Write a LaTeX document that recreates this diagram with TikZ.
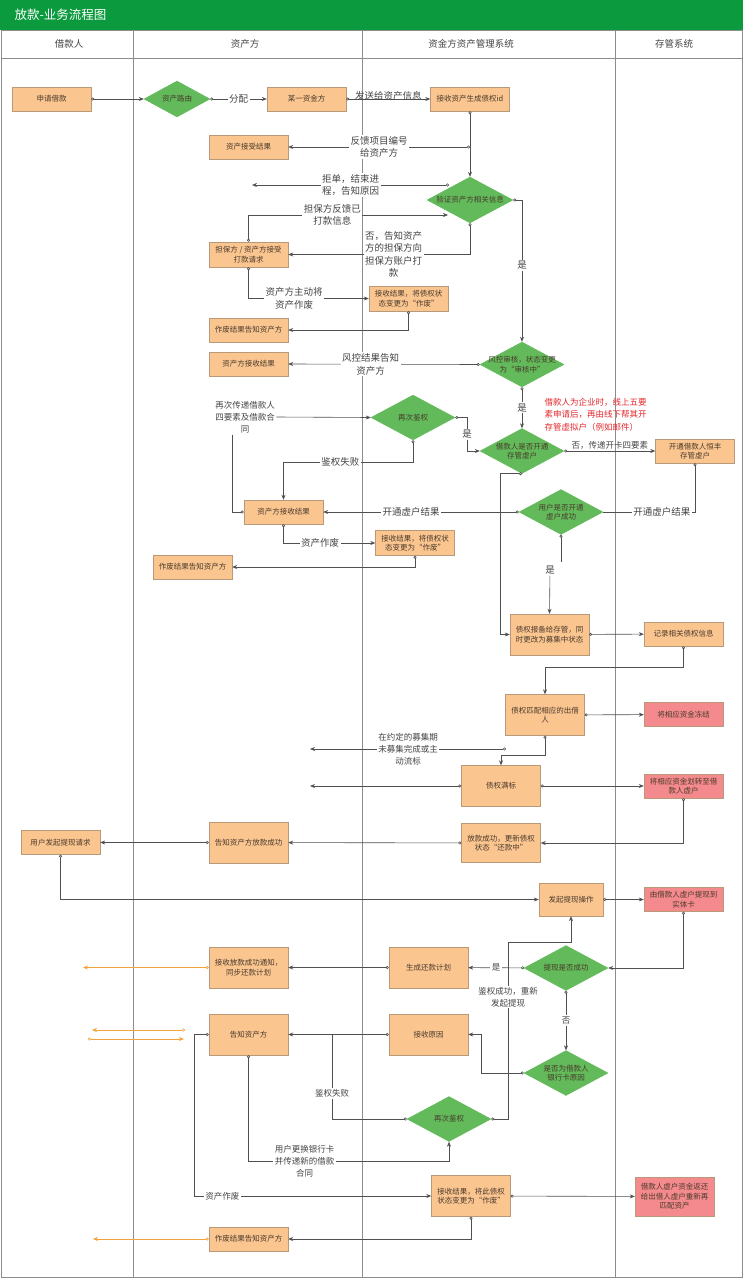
\documentclass[tikz,border=0pt]{standalone}
\usepackage{fontspec}
\setmainfont{Noto Sans CJK SC}
\usetikzlibrary{shapes.geometric,arrows.meta}
\definecolor{titlegreen}{HTML}{0B9A3E}
\definecolor{boxfill}{HTML}{FBC590}
\definecolor{boxline}{HTML}{B89A78}
\definecolor{choicefill}{HTML}{62BA5A}
\definecolor{alarmfill}{HTML}{F58A8E}
\definecolor{linkgray}{HTML}{505050}
\definecolor{lanegray}{HTML}{8C8C8C}
\definecolor{notegray}{HTML}{444444}
\definecolor{memored}{HTML}{E3262B}
\definecolor{ochre}{HTML}{F2A43A}
\definecolor{boxtext}{HTML}{4A3B2C}

\begin{document}
\begin{tikzpicture}[x=1pt,y=-1pt,
    box/.style={draw=boxline, fill=boxfill, minimum width=79pt, minimum height=24pt, inner sep=1pt, align=center, text=boxtext, font=\fontsize{7.5}{9.5}\selectfont},
    tall/.style={box, minimum height=41pt},
    alarm/.style={box, fill=alarmfill},
    choice/.style={diamond, draw=choicefill, fill=choicefill, minimum width=84pt, minimum height=45pt, inner sep=0pt},
    ctext/.style={text=boxtext, align=center, inner sep=0pt, font=\fontsize{7.5}{9.5}\selectfont},
    head/.style={text=notegray, font=\fontsize{9.5}{12}\selectfont},
    lane/.style={draw=lanegray, line width=0.8pt},
    link/.style={draw=linkgray, line width=0.6pt},
    flow/.style={link, arrows={Circle[open,length=3pt]-Stealth[length=5pt,width=4pt]}},
    tip/.style={link, arrows={-Stealth[length=5pt,width=4pt]}},
    dot/.style={link, arrows={Circle[open,length=3pt]-}},
    oflow/.style={flow, draw=ochre},
    note/.style={fill=white, inner sep=1.5pt, align=center, text=notegray, font=\fontsize{9.5}{12.5}\selectfont},
    snote/.style={note, font=\fontsize{8.5}{12}\selectfont}]
   \useasboundingbox (0,0) rectangle (743,1279);
   \fill[titlegreen] (0,0) rectangle (743,30);
   \node[anchor=west, text=white, font=\fontsize{12.5}{14}\selectfont] (title) at (11,15) {放款-业务流程图};
   \draw[lane] (1,30) rectangle (742,1277);
   \draw[lane] (1,58) -- (742,58);
   \foreach \x in {133,362,615} \draw[lane] (\x,30) -- (\x,1277);
   \node[head] (laneA) at (69,44) {借款人};
   \node[head] (laneB) at (245,44) {资产方};
   \node[head] (laneC) at (471,44) {资金方资产管理系统};
   \node[head] (laneD) at (674,44) {存管系统};

   \node[box] (apply) at (51.5,99) {申请借款};
   \node[choice, minimum width=66pt, minimum height=36pt, label={[ctext]center:资产路由}] (route) at (177,99) {};
   \node[box] (funder) at (306.5,99) {某一资金方};
   \node[box] (claim) at (470,99) {接收资产生成债权id};
   \node[box] (accept) at (248.5,147) {资产接受结果};
   \node[choice, minimum width=86pt, minimum height=46pt, label={[ctext]center:验证资产方相关信息}] (check) at (470,200) {};
   \node[box, minimum height=25pt] (guar) at (248.5,254.5) {担保方 / 资产方接受\\打款请求};
   \node[box, minimum height=25pt] (void1) at (408.5,298.5) {接收结果，将债权状\\态变更为“作废”};
   \node[box] (told1) at (248.5,330) {作废结果告知资产方};
   \node[box] (heard1) at (248.5,364) {资产方接收结果};
   \node[choice, label={[ctext]center:风控审核，状态变更\\为“审核中”}] (risk) at (522,364.5) {};
   \node[choice, label={[ctext]center:再次鉴权}] (reauth) at (413,417.5) {};
   \node[choice, label={[ctext]center:借款人是否开通\\存管虚户}] (opened) at (522,451) {};
   \node[box] (openacct) at (695,451) {开通借款人恒丰\\存管虚户};
   \node[anchor=west, align=left, text=memored, font=\fontsize{8.5}{12.5}\selectfont] (memo) at (541,414.5) {借款人为企业时，线上五要\\素申请后，再由线下帮其开\\存管虚拟户（例如邮件）};
   \node[snote, fill=none] (resend) at (245,417) {再次传递借款人\\四要素及借款合\\同};
   \node[box] (heard2) at (283.5,512) {资产方接收结果};
   \node[choice, label={[ctext]center:用户是否开通\\虚户成功}] (success) at (561,512) {};
   \node[box, minimum height=25pt] (void2) at (415,543) {接收结果，将债权状\\态变更为“作废”};
   \node[box] (told2) at (192.5,567) {作废结果告知资产方};
   \node[tall] (report) at (549.5,634.5) {债权报备给存管，同\\时更改为募集中状态};
   \node[box] (record) at (683.5,634) {记录相关债权信息};
   \node[tall] (match) at (545,715) {债权匹配相应的出借\\人};
   \node[alarm] (freeze) at (683.5,714.5) {将相应资金冻结};
   \node[tall] (full) at (501,786) {债权满标};
   \node[alarm] (transfer) at (683.5,786) {将相应资金划转至借\\款人虚户};
   \node[tall, minimum height=39pt] (lent) at (501,843) {放款成功，更新债权\\状态“还款中”};
   \node[tall] (toldok) at (248.5,842.5) {告知资产方放款成功};
   \node[box] (cashreq) at (60.5,842.5) {用户发起提现请求};
   \node[box, minimum width=64pt, minimum height=33pt] (cashop) at (571,899.5) {发起提现操作};
   \node[alarm] (tocard) at (683.5,899.5) {由借款人虚户提现到\\实体卡};
   \node[choice, label={[ctext]center:提现是否成功}] (cashok) at (566,968) {};
   \node[tall] (plan) at (428.5,967.5) {生成还款计划};
   \node[tall] (synced) at (248.5,967.5) {接收放款成功通知，\\同步还款计划};
   \node[choice, label={[ctext]center:是否为借款人\\银行卡原因}] (cause) at (566,1073) {};
   \node[tall] (reason) at (428.5,1034.5) {接收原因};
   \node[tall] (toldasset) at (248.5,1034.5) {告知资产方};
   \node[choice, label={[ctext]center:再次鉴权}] (reauthb) at (449,1119) {};
   \node[tall] (void3) at (471,1196) {接收结果，将此债权\\状态变更为“作废”};
   \node[alarm, minimum height=39pt] (refund) at (674.5,1196.5) {借款人虚户资金返还\\给出借人虚户重新再\\匹配资产};
   \node[box] (told3) at (248.5,1239) {作废结果告知资产方};

   \coordinate (fbk) at (470,147);
   \coordinate (rej) at (449,185);
   \coordinate (rejto) at (252,185);
   \coordinate (paid) at (448,215);
   \coordinate (dropA) at (283.5,462);
   \coordinate (lapse) at (506,749);
   \coordinate (lapseto) at (310,749);
   \coordinate (fullto) at (310,786);
   \coordinate (syncto) at (83,967.5);
   \coordinate (oa) at (185,1030);
   \coordinate (ob) at (92,1030);
   \coordinate (oc) at (88,1039);
   \coordinate (od) at (184,1039);
   \coordinate (told3to) at (93,1239);

   \draw[flow] (apply) -- (route);
   \draw[flow] (route) -- node[note]{分配} (funder);
   \draw[flow] (funder) -- node[note, fill=none, above, inner sep=0pt, yshift=-2pt]{发送给资产信息} (claim);
   \draw[flow] (claim) -- (check);
   \draw[flow] (fbk) -- node[note]{反馈项目编号\\给资产方} (accept);
   \draw[flow] (rej) -- node[note]{拒单，结束进\\程，告知原因} (rejto);
   \draw[flow] (guar.north) |- node[note, pos=0.71]{担保方反馈已\\打款信息} (paid);
   \draw[flow] (check.south) |- node[note, pos=0.71]{否，告知资产\\方的担保方向\\担保方账户打\\款} (guar.east);
   \draw[flow] (guar.south) |- node[note, pos=0.69]{资产方主动将\\资产作废} (void1.west);
   \draw[flow] (void1.south) |- (told1.east);
   \draw[flow] (check.east) -| node[note, pos=0.73]{是} (risk.north);
   \draw[flow] (risk.west) -- node[note, pos=0.57]{风控结果告知\\资产方} (heard1.east);
   \draw[flow] (risk.south) -- node[note]{是} (opened.north);
   \draw[tip] (resend.east) -- (reauth.west);
   \draw[link, arrows={-Circle[open,length=3pt]}] ([xshift=-13pt]resend.south) |- (heard2.west);
   \draw[flow] (reauth.east) -- ++(12,0) |- node[note, pos=0.25]{是} (opened.west);
   \draw[flow] (reauth.south) |- node[note, pos=0.78]{鉴权失败} (dropA) -- (heard2.north);
   \draw[flow] (opened.east) -- node[snote, fill=none, above, inner sep=1pt]{否，传递开卡四要素} (openacct.west);
   \draw[dot] (openacct.south) |- node[note, pos=0.68]{开通虚户结果} (success.east);
   \draw[flow] (success.west) -- node[note, pos=0.55]{开通虚户结果} (heard2.east);
   \draw[flow] (heard2.south) |- node[note, pos=0.7]{资产作废} (void2.west);
   \draw[flow] (void2.south) |- (told2.east);
   \draw[flow] (opened.south) -- ++(-22,0) |- (report.west);
   \node[note] (yes) at (550,570) {是};
   \draw[dot] (success.south) -- ++(0,27);
   \draw[tip] (yes) -- (report.north);
   \draw[flow] (report) -- (record);
   \draw[flow] (record.south) -- ++(0,21) -| (match.north);
   \draw[flow] (match) -- (freeze);
   \draw[flow] (match.south) -- ++(0,20) -| (full.north);
   \draw[flow] (lapse) -- node[snote]{在约定的募集期\\未募集完成或主\\动流标} (lapseto);
   \draw[flow] (full.west) -- (fullto);
   \draw[flow] (full) -- (transfer);
   \draw[flow] (transfer.south) |- (lent.east);
   \draw[flow] (lent) -- (toldok);
   \draw[flow] (toldok) -- (cashreq);
   \draw[flow] (cashreq.south) |- (cashop.west);
   \draw[flow] (cashop) -- (tocard);
   \draw[flow] (tocard.south) |- (cashok.east);
   \draw[flow] (cashok) -- node[snote]{是} (plan);
   \draw[flow] (plan) -- (synced);
   \draw[oflow] (synced) -- (syncto);
   \draw[flow] (cashok) -- node[snote]{否} (cause);
   \draw[flow] (cause.west) -- ++(-43,0) |- (reason.east);
   \draw[flow] (reason) -- (toldasset);
   \draw[oflow] (oa) -- (ob);
   \draw[oflow] (oc) -- (od);
   \draw[dot] (reauthb.west) -| node[snote, pos=0.65]{鉴权失败} ([xshift=44pt]toldasset.east);
   \draw[flow] (reauthb.east) -- ++(17,0) |- node[snote, pos=0.345]{鉴权成功，重新\\发起提现} ([yshift=-26pt]cashop.south) -- (cashop.south);
   \draw[flow] (toldasset.south) |- node[snote, pos=0.64]{用户更换银行卡\\并传递新的借款\\合同} ([yshift=-20pt]reauthb.south) -- (reauthb.south);
   \draw[flow] (toldasset.west) -- ++(-15,0) |- node[snote, pos=0.56]{资产作废} (void3.west);
   \draw[flow] (void3) -- (refund);
   \draw[flow] (void3.south) |- (told3.east);
   \draw[oflow] (told3) -- (told3to);
\end{tikzpicture}
\end{document}
